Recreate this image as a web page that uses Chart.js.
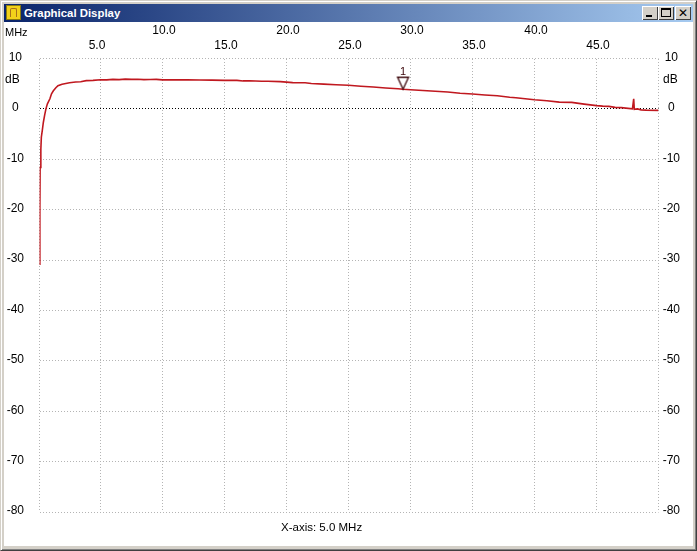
<!DOCTYPE html>
<html><head><meta charset="utf-8">
<script src="https://cdn.jsdelivr.net/npm/chart.js@4/dist/chart.umd.min.js"></script>
<style>
html,body{margin:0;padding:0;width:697px;height:551px;overflow:hidden;background:#d4d0c8;font-family:"Liberation Sans",Arial,sans-serif}
#win{position:absolute;left:0;top:0;width:695px;height:549px;border:1px solid;border-color:#d4d0c8 #404040 #404040 #d4d0c8;box-shadow:inset 1px 1px 0 #fff,inset -1px -1px 0 #808080}
#title{position:absolute;left:4px;top:4px;width:689px;height:18px;background:linear-gradient(90deg,#0a246a,#a6caf0)}
#ttext{position:absolute;left:24px;top:6px;font:bold 11.4px "Liberation Sans";color:#fff;line-height:14px}
#icon{position:absolute;left:6px;top:5px;width:15px;height:15px;background:#f2d21a;border:1px solid #8a7a10;box-sizing:border-box}
#icon i{position:absolute;left:3px;top:2px;width:7px;height:9px;border:1px solid #a8701a;border-bottom:0;border-radius:2px 2px 0 0;box-sizing:border-box}
.btn{position:absolute;top:6px;width:16px;height:14px;background:#d4d0c8;box-shadow:inset 1px 1px 0 #fff,inset -1px -1px 0 #404040}
.btn b{position:absolute;box-sizing:border-box}
#client{position:absolute;left:4px;top:22px;width:689px;height:524px;background:#fff}
canvas{position:absolute;left:0;top:0}
.t{position:absolute;color:#000;line-height:14px;white-space:pre;font-family:"Liberation Sans"}
</style></head><body>
<div id="win"></div>
<div id="title"></div>
<div id="icon"><i></i></div>
<div id="ttext">Graphical Display</div>
<div class="btn" style="left:642px"><b style="left:4px;top:9px;width:6px;height:2px;background:#000"></b></div>
<div class="btn" style="left:658px"><b style="left:3px;top:2px;width:10px;height:9px;border:1px solid #000;border-top-width:2px"></b></div>
<div class="btn" style="left:675px;font:bold 12px 'DejaVu Sans';text-align:center;line-height:14px">✕</div>
<div id="client"></div>
<canvas id="c" width="697" height="551"></canvas>
<div class="t" style="left:5px;top:25px;font-size:11px">MHz</div>
<div class="t" style="left:5px;top:72px;font-size:12px">dB</div>
<div class="t" style="left:663px;top:72px;font-size:12px">dB</div>
<div class="t" style="left:281px;top:520px;font-size:11.5px">X-axis: 5.0 MHz</div>
<script>
const freqMHz = [0.11,0.11,0.13,0.19,0.23,0.31,0.39,0.5,0.6,0.72,0.92,1.05,1.2,1.4,1.57,1.9,2.5,3.0,3.4,3.85,4.4,5,5.5,6,6.5,7,7.5,8,8.5,9,9.5,10,11,12,13,14,15,16,16.5,17,18,18.5,19.5,20.5,21.5,22,23,24,25,26,27,28,29,29.4,30,31,32,33,34,35,36,37,38,38.5,40,41,42,43,44,45,45.5,46,46.5,47,47.9,48.0,48.05,48.3,48.6,49,50];
const gainDb = [-31,-20,-11.6,-8,-5.6,-4.2,-2.7,-1.2,0,1,2,3,3.6,4.2,4.6,4.9,5.2,5.35,5.4,5.6,5.65,5.78,5.75,5.85,5.8,5.9,5.85,5.88,5.8,5.82,5.85,5.75,5.75,5.75,5.72,5.7,5.65,5.65,5.55,5.58,5.5,5.48,5.42,5.22,5.2,5.05,4.92,4.8,4.68,4.5,4.35,4.15,4.0,3.9,3.8,3.65,3.5,3.35,3.1,2.95,2.75,2.6,2.3,2.2,1.8,1.6,1.35,1.3,0.95,0.65,0.55,0.5,0.3,0.25,0.0,2.0,-0.1,0.0,-0.2,-0.25,-0.3];
const markerFreq = [29.4];
const markerDb = [3.9];
const markerLabels = ["1"];
const xTickValues = [5,10,15,20,25,30,35,40,45];
const xTickLabels = ["5.0","10.0","15.0","20.0","25.0","30.0","35.0","40.0","45.0"];
const yTickValues = [10,0,-10,-20,-30,-40,-50,-60,-70,-80];
const xMin = 0.081, xMax = 50, yMin = -80, yMax = 10;

const MAROON = '#3a0408';
function markerIcon(){
  const c=document.createElement('canvas');c.width=15;c.height=27;
  const g=c.getContext('2d');g.strokeStyle=MAROON;g.fillStyle='#fff';g.lineWidth=1.3;
  g.beginPath();g.moveTo(2,1.5);g.lineTo(13,1.5);g.lineTo(7.5,13.5);g.closePath();g.fill();g.stroke();
  return c;
}
const markerText = {
  id:'markerText',
  afterDatasetsDraw(ch){
    const {ctx,scales:{x,y}}=ch;
    ctx.save();ctx.font='11px "Liberation Sans"';ctx.fillStyle=MAROON;ctx.textAlign='center';ctx.textBaseline='middle';
    markerLabels.forEach((s,i)=>ctx.fillText(s,x.getPixelForValue(markerFreq[i]),y.getPixelForValue(markerDb[i])-17.5));
    ctx.restore();
  }
};
function fixTicks(vals,add){return s=>{s.ticks=(add?[xMin,...vals,xMax]:vals).map(v=>({value:v}));};}
const font={family:'"Liberation Sans"',size:12};
new Chart(document.getElementById('c'),{
  type:'line',
  data:{datasets:[
    {data:freqMHz.map((f,i)=>({x:f,y:gainDb[i]})),borderColor:'#c0181f',borderWidth:1.6,pointRadius:0,tension:0,fill:false,order:2},
    {data:markerFreq.map((f,i)=>({x:f,y:markerDb[i]})),showLine:false,pointStyle:markerIcon(),pointRadius:8,order:1}
  ]},
  options:{
    responsive:false,animation:false,devicePixelRatio:1,
    plugins:{legend:{display:false},tooltip:{enabled:false}},
    scales:{
      x:{type:'linear',position:'top',min:xMin,max:xMax,
        afterBuildTicks:fixTicks(xTickValues,true),
        afterFit:s=>{s.height=58.5;},
        border:{display:false,dash:[1,2]},
        grid:{color:'#b4b4b4',lineWidth:1,drawTicks:false},
        ticks:{font,color:'#000',padding:6,maxRotation:0,autoSkip:false,labelOffset:1.5,
          callback:v=>{const i=xTickValues.indexOf(v);if(i<0)return '';if(i===0)return xTickLabels[i]+'   ';return i%2?[xTickLabels[i],'']:xTickLabels[i];}}
      },
      y:{type:'linear',position:'left',min:yMin,max:yMax,
        afterBuildTicks:fixTicks(yTickValues),
        afterFit:s=>{s.width=39.5;},
        border:{display:false,dash:[1,2]},
        grid:{color:c=>c.tick&&c.tick.value===0?'#000':'#b4b4b4',lineWidth:1,drawTicks:false},
        ticks:{font,color:'#000',padding:15.5,crossAlign:'center',labelOffset:-1,autoSkip:false,callback:v=>String(v)}
      },
      y2:{type:'linear',position:'right',min:yMin,max:yMax,
        afterBuildTicks:fixTicks(yTickValues),
        afterFit:s=>{s.width=38.5;},
        border:{display:false},
        grid:{display:false,drawTicks:false},
        ticks:{font,color:'#000',padding:4.2,crossAlign:'center',labelOffset:-1,autoSkip:false,callback:v=>String(v)}
      }
    },
    layout:{padding:{bottom:39}}
  },
  plugins:[markerText]
});
</script>
</body></html>
